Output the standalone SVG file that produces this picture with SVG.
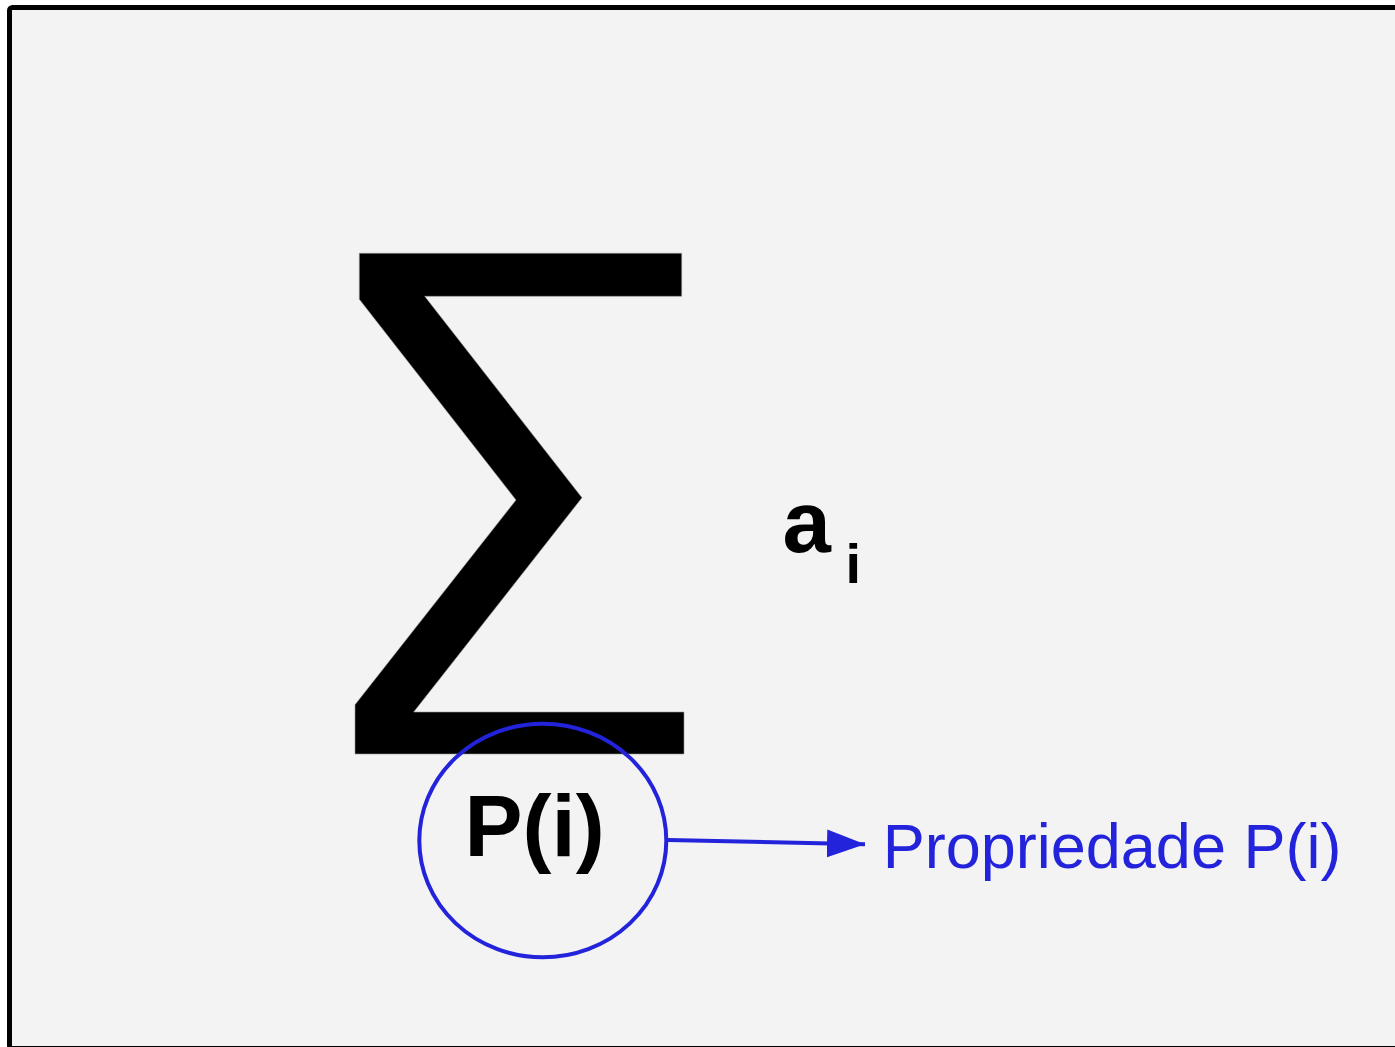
<svg xmlns="http://www.w3.org/2000/svg" width="1395" height="1047" viewBox="0 0 1395 1047">
  <defs>
    <style>
      .frame { fill: #f3f3f3; stroke: #000; stroke-width: 5; }
      .sym { fill: #000; stroke: #999; stroke-width: 0.6; }
      .bold { font-family: "Liberation Sans", Arial, sans-serif; font-weight: bold; fill: #000; }
      .blue { stroke: #2323dc; fill: none; stroke-width: 4; }
      .label { font-family: "Liberation Sans", Arial, sans-serif; fill: #2323dc; }
    </style>
    <marker id="arrow" markerUnits="userSpaceOnUse" markerWidth="40" markerHeight="30" refX="38" refY="14" orient="auto">
      <path d="M0,0 L38,14 L0,28 Z" fill="#2323dc"/>
    </marker>
  </defs>
  <rect class="frame" x="9.5" y="7.5" width="1400" height="1041" rx="3"/>
  <g id="sigma">
    <polygon class="sym" points="359.3,253.3 681.7,253.3 681.7,296.3 424.7,296.3 582,497.7 413.7,712 684,712 684,754 355,754 355,704.7 516,500 359.3,299.3"/>
  </g>
  <g id="term">
    <text class="bold" x="782.5" y="552" font-size="87">a</text>
    <text class="bold" x="845.5" y="582.7" font-size="56">i</text>
  </g>
  <g id="condition">
    <ellipse class="blue" cx="542.8" cy="840.5" rx="123.5" ry="116.8"/>
    <text class="bold" x="464.5" y="855.7" font-size="87">P(i)</text>
  </g>
  <g id="connectors">
    <line class="blue" x1="668" y1="840" x2="865" y2="844.3" marker-end="url(#arrow)"/>
  </g>
  <g id="label">
    <text class="label" x="882.7" y="867.7" font-size="63">Propriedade P(i)</text>
  </g>
</svg>
